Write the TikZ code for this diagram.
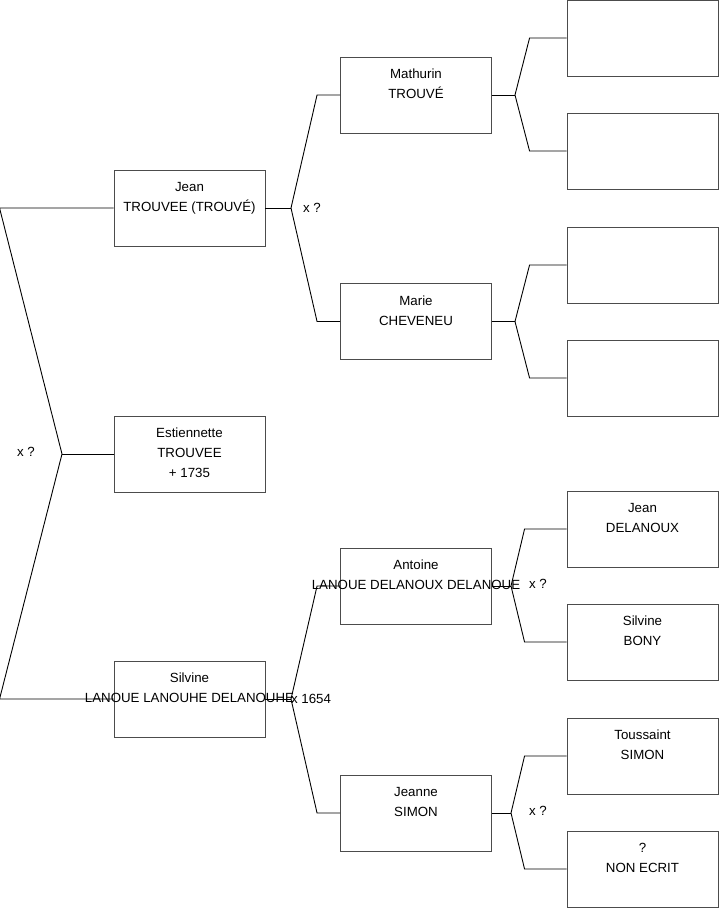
\documentclass[tikz,border=0pt]{standalone}
\usepackage{fontspec}
\setmainfont{Liberation Sans}
\usetikzlibrary{positioning}
\tikzset{
  person/.style={draw=black!70, line width=0.9pt, minimum width=151pt, minimum height=76pt, inner sep=0pt},
  name text/.style={align=center, inner sep=0pt, font=\fontsize{13.3}{20}\selectfont},
  link/.style={line width=0.9pt},
  union/.style={inner sep=0pt, font=\fontsize{13.3}{16}\selectfont},
}

\begin{document}
\begin{tikzpicture}[x=1pt, y=-1pt]
  \useasboundingbox (0,0) rectangle (719,908);

  % Generation 1
  \node[person] (jean) at (189.5,208) {};
  \node[person] (estiennette) at (189.5,454) {};
  \node[person] (silvine) at (189.5,699) {};
  \node[name text, below=12.5pt of jean.north] (jean-t) {Jean\\TROUVEE (TROUVÉ)};
  \node[name text, below=12.5pt of estiennette.north] (estiennette-t) {Estiennette\\TROUVEE\\+ 1735};
  \node[name text, below=12.5pt of silvine.north] (silvine-t) {Silvine\\LANOUE LANOUHE DELANOUHE};

  % Generation 2
  \node[person] (mathurin) at (416,95) {};
  \node[person] (marie) at (416,321.5) {};
  \node[person] (antoine) at (416,586) {};
  \node[person] (jeanne) at (416,813) {};
  \node[name text, below=12.5pt of mathurin.north] (mathurin-t) {Mathurin\\TROUVÉ};
  \node[name text, below=12.5pt of marie.north] (marie-t) {Marie\\CHEVENEU};
  \node[name text, below=12.5pt of antoine.north] (antoine-t) {Antoine\\LANOUE DELANOUX DELANOUE};
  \node[name text, below=12.5pt of jeanne.north] (jeanne-t) {Jeanne\\SIMON};

  % Generation 3
  \node[person] (mathurin-f) at (642.5,38) {};
  \node[person] (mathurin-m) at (642.5,151) {};
  \node[person] (marie-f) at (642.5,265) {};
  \node[person] (marie-m) at (642.5,378) {};
  \node[person] (antoine-f) at (642.5,529) {};
  \node[person] (antoine-m) at (642.5,642) {};
  \node[person] (jeanne-f) at (642.5,756) {};
  \node[person] (jeanne-m) at (642.5,869) {};
  \node[name text, below=12.5pt of antoine-f.north] (antoine-f-t) {Jean\\DELANOUX};
  \node[name text, below=12.5pt of antoine-m.north] (antoine-m-t) {Silvine\\BONY};
  \node[name text, below=12.5pt of jeanne-f.north] (jeanne-f-t) {Toussaint\\SIMON};
  \node[name text, below=12.5pt of jeanne-m.north] (jeanne-m-t) {?\\NON ECRIT};

  % Fork points
  \coordinate (root) at (62,454);
  \coordinate (jean-v) at (291,208);
  \coordinate (silvine-v) at (291,699);
  \coordinate (mathurin-v) at (515,95);
  \coordinate (marie-v) at (515,321.5);
  \coordinate (antoine-v) at (511,586);
  \coordinate (jeanne-v) at (511,813);

  % Links
  \draw[link] (jean.west) -- ([xshift=-114pt]jean.west) -- (root) -- ([xshift=-114pt]silvine.west) -- (silvine.west);
  \draw[link] (root) -- (estiennette.west);

  \draw[link] (jean.east) -- (jean-v);
  \draw[link] (mathurin.west) -- ([xshift=-23pt]mathurin.west) -- (jean-v) -- ([xshift=-23pt]marie.west) -- (marie.west);
  \draw[link] (silvine.east) -- (silvine-v);
  \draw[link] (antoine.west) -- ([xshift=-23pt]antoine.west) -- (silvine-v) -- ([xshift=-23pt]jeanne.west) -- (jeanne.west);

  \draw[link] (mathurin.east) -- (mathurin-v);
  \draw[link] (mathurin-f.west) -- ([xshift=-37pt]mathurin-f.west) -- (mathurin-v) -- ([xshift=-37pt]mathurin-m.west) -- (mathurin-m.west);
  \draw[link] (marie.east) -- (marie-v);
  \draw[link] (marie-f.west) -- ([xshift=-37pt]marie-f.west) -- (marie-v) -- ([xshift=-37pt]marie-m.west) -- (marie-m.west);
  \draw[link] (antoine.east) -- (antoine-v);
  \draw[link] (antoine-f.west) -- ([xshift=-42pt]antoine-f.west) -- (antoine-v) -- ([xshift=-42pt]antoine-m.west) -- (antoine-m.west);
  \draw[link] (jeanne.east) -- (jeanne-v);
  \draw[link] (jeanne-f.west) -- ([xshift=-42pt]jeanne-f.west) -- (jeanne-v) -- ([xshift=-42pt]jeanne-m.west) -- (jeanne-m.west);

  % Marriages
  \node[union] (root-u) at (26,452) {x ?};
  \node[union] (jean-u) at (312,208) {x ?};
  \node[union] (silvine-u) at (311,699) {x 1654};
  \node[union] (antoine-u) at (538,584) {x ?};
  \node[union] (jeanne-u) at (538,811) {x ?};
\end{tikzpicture}
\end{document}
